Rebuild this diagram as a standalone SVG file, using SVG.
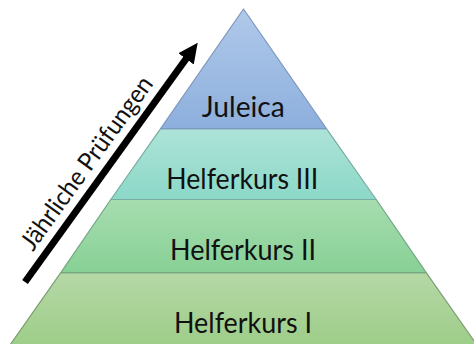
<svg xmlns="http://www.w3.org/2000/svg" width="474" height="344" viewBox="0 0 474 344">
<defs>
<linearGradient id="g1" x1="0" y1="0" x2="0" y2="1"><stop offset="0" stop-color="#b0c9ea"/><stop offset="1" stop-color="#8dafdd"/></linearGradient>
<linearGradient id="g2" x1="0" y1="0" x2="0" y2="1"><stop offset="0" stop-color="#ade3d8"/><stop offset="1" stop-color="#8cd8c8"/></linearGradient>
<linearGradient id="g3" x1="0" y1="0" x2="0" y2="1"><stop offset="0" stop-color="#a7ddb0"/><stop offset="1" stop-color="#87d095"/></linearGradient>
<linearGradient id="g4" x1="0" y1="0" x2="0" y2="1"><stop offset="0" stop-color="#b5d8a6"/><stop offset="1" stop-color="#9ecd89"/></linearGradient>
<marker id="ah" markerUnits="userSpaceOnUse" markerWidth="22" markerHeight="20" refX="2" refY="10" orient="auto"><path d="M0,0.5 L20,10 L0,19.5 z" fill="#000"/></marker>
</defs>
<style>
.band{stroke-width:1.2;stroke-linejoin:round}
.lbl{font-family:Lato,"Open Sans","Liberation Sans",sans-serif;font-size:28px;fill:#111;text-anchor:middle}
.side{font-family:Lato,"Open Sans","Liberation Sans",sans-serif;font-size:25px;fill:#111;text-anchor:middle}
</style>
<g id="helferkurs1">
<polygon class="band" points="60.8,272.7 426.2,272.7 477,345 10,345" fill="url(#g4)" stroke="#7c9e72"/>
<text class="lbl" x="243" y="333.3" textLength="138" lengthAdjust="spacingAndGlyphs">Helferkurs I</text>
</g>
<g id="helferkurs2">
<polygon class="band" points="110.8,199.5 376.2,199.5 426.2,272.7 60.8,272.7" fill="url(#g3)" stroke="#74a882"/>
<text class="lbl" x="243" y="260" textLength="146" lengthAdjust="spacingAndGlyphs">Helferkurs II</text>
</g>
<g id="helferkurs3">
<polygon class="band" points="160.6,128.7 326.4,128.7 376.2,199.5 110.8,199.5" fill="url(#g2)" stroke="#78ad9f"/>
<text class="lbl" x="242.3" y="189.3" textLength="152" lengthAdjust="spacingAndGlyphs">Helferkurs III</text>
</g>
<g id="juleica">
<polygon class="band" points="243.5,9 326.4,128.7 160.6,128.7" fill="url(#g1)" stroke="#7f98be"/>
<text class="lbl" x="243.3" y="117.3" textLength="83" lengthAdjust="spacingAndGlyphs">Juleica</text>
</g>
<g id="connectors">
<line x1="25" y1="282" x2="187.2" y2="57.3" stroke="#000" stroke-width="7" marker-end="url(#ah)"/>
</g>
<g id="side-label">
<text class="side" transform="translate(93.5,168) rotate(-54.2)" x="0" y="0" textLength="207" lengthAdjust="spacingAndGlyphs">Jährliche Prüfungen</text>
</g>
</svg>
